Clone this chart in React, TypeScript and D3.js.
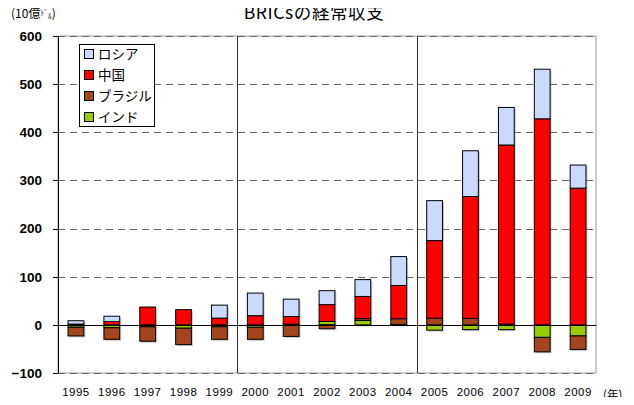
import React from "react";
import * as d3 from "d3";

const years = ["1995","1996","1997","1998","1999","2000","2001","2002","2003","2004","2005","2006","2007","2008","2009"];
const russia = [7, 11, 0, 0, 27, 47, 36, 29, 35, 60, 83, 95, 78, 103, 48];
const china = [1.6, 7, 37, 31.5, 14, 19, 16, 35, 46, 69, 161, 253, 372, 428, 284];
const brazil = [-18, -24, -30, -34, -26, -25, -24, -8, 4, 12, 14, 13.6, 1.6, -30, -28];
const india = [-5, -6, -4, -7, -4, -5, 1.4, 7, 9, 0.8, -11, -10, -10, -26, -23];
const yTicks = [-100, 0, 100, 200, 300, 400, 500, 600];
const seriesKeys = ["india", "brazil", "china", "russia"];
const legendItems = [
  { key: "russia", label: "ロシア" },
  { key: "china", label: "中国" },
  { key: "brazil", label: "ブラジル" },
  { key: "india", label: "インド" },
];
const colors: Record<string, string> = {
  russia: "#CCD9FF",
  china: "#FF0000",
  brazil: "#A3461E",
  india: "#99CC00",
};

const FONT = "'Noto Sans CJK JP', 'Noto Sans', sans-serif";
const NUM = "'Liberation Sans', Arial, sans-serif";

export default function App() {
  const W = 634, H = 405;
  const left = 58, right = 596, top = 36, bottom = 373;
  const x = d3.scaleBand<string>().domain(years).range([left, right]).paddingInner(0.56).paddingOuter(0.28);
  const y = d3.scaleLinear().domain([-100, 600]).range([bottom, top]);

  const table = years.map((yr, i) => ({
    year: yr,
    russia: russia[i],
    china: china[i],
    brazil: brazil[i],
    india: india[i],
  }));
  const stacked = d3.stack<any>().keys(seriesKeys).offset(d3.stackOffsetDiverging)(table);
  const separators = [5, 10].map((k) => left + (right - left) * k / years.length);

  return (
    <div style={{ margin: "-8px" }}>
      <svg width={W} height={H} style={{ display: "block", background: "#fff" }} fontFamily={FONT}>
        <text x={314} y={19} textAnchor="middle" fontSize={17.5} letterSpacing={0.6} fill="#000">BRICsの経常収支</text>
        <text x={11} y={18} fontSize={12} fill="#000">
          (10億<tspan fontSize={7.5} dy={-2}>ﾄﾞ</tspan><tspan fontSize={7.5} dy={3}>ﾙ</tspan><tspan dy={-1}>)</tspan>
        </text>
        {/* plot border */}
        <rect x={left} y={top} width={right - left} height={bottom - top} fill="none" stroke="#999" strokeWidth={1} />
        {/* grid */}
        {yTicks.filter((t) => t !== 0).map((t) => (
          <line key={t} x1={left} x2={right} y1={Math.round(y(t)) + 0.5} y2={Math.round(y(t)) + 0.5}
            stroke="#666" strokeDasharray="7,5" strokeWidth={1} />
        ))}
        {/* separators */}
        {separators.map((sx, i) => (
          <line key={i} x1={Math.round(sx) + 0.5} x2={Math.round(sx) + 0.5} y1={top} y2={bottom} stroke="#333" strokeWidth={1} />
        ))}
        {/* bars shadow */}
        {stacked.map((s) => (
          <g key={"sh" + s.key}>
            {s.map((d, i) => {
              const y0 = y(d[0]), y1 = y(d[1]);
              const h = Math.abs(y0 - y1);
              if (h < 0.3) return null;
              return (
                <rect key={i} x={(x(years[i]) as number) + 1.5} y={Math.min(y0, y1) + 1.5}
                  width={x.bandwidth()} height={h} fill="#888" opacity={0.45} />
              );
            })}
          </g>
        ))}
        {/* bars */}
        {stacked.map((s) => (
          <g key={s.key}>
            {s.map((d, i) => {
              const y0 = y(d[0]), y1 = y(d[1]);
              const h = Math.abs(y0 - y1);
              if (h < 0.3) return null;
              return (
                <rect key={i} x={x(years[i]) as number} y={Math.min(y0, y1)}
                  width={x.bandwidth()} height={h} fill={colors[s.key]} stroke="#000" strokeWidth={1} />
              );
            })}
          </g>
        ))}
        {/* zero line */}
        <line x1={left} x2={right} y1={Math.round(y(0)) + 0.5} y2={Math.round(y(0)) + 0.5} stroke="#000" strokeWidth={1} />
        {/* y axis */}
        <line x1={left + 0.5} x2={left + 0.5} y1={top} y2={bottom} stroke="#000" strokeWidth={1} />
        {yTicks.map((t) => (
          <g key={t}>
            <line x1={left - 5} x2={left} y1={Math.round(y(t)) + 0.5} y2={Math.round(y(t)) + 0.5} stroke="#000" />
            <text x={42} y={y(t)} dy="0.36em" textAnchor="end" fontSize={13.5} fontWeight="bold" fontFamily={NUM} fill="#000">
              {t < 0 ? "\u2212" + Math.abs(t) : t}
            </text>
          </g>
        ))}
        {/* x labels */}
        {years.map((yr) => (
          <text key={yr} x={(x(yr) as number) + x.bandwidth() / 2} y={396} textAnchor="middle" fontSize={11.5} fontFamily={NUM} fill="#000" letterSpacing={0.5}>
            {yr}
          </text>
        ))}
        <text x={603} y={399} fontSize={11.5} fill="#000">(年)</text>
        {/* legend */}
        <rect x={79.5} y={44.5} width={75} height={82} fill="#fff" stroke="#000" strokeWidth={1} />
        {legendItems.map((it, i) => {
          const cy = 54 + i * 21;
          return (
            <g key={it.key}>
              <rect x={84.5} y={cy - 4.5} width={9} height={9} fill={colors[it.key]} stroke="#000" strokeWidth={1} />
              <text x={98} y={cy} dy="0.36em" fontSize={13.5} fill="#000">{it.label}</text>
            </g>
          );
        })}
      </svg>
    </div>
  );
}
